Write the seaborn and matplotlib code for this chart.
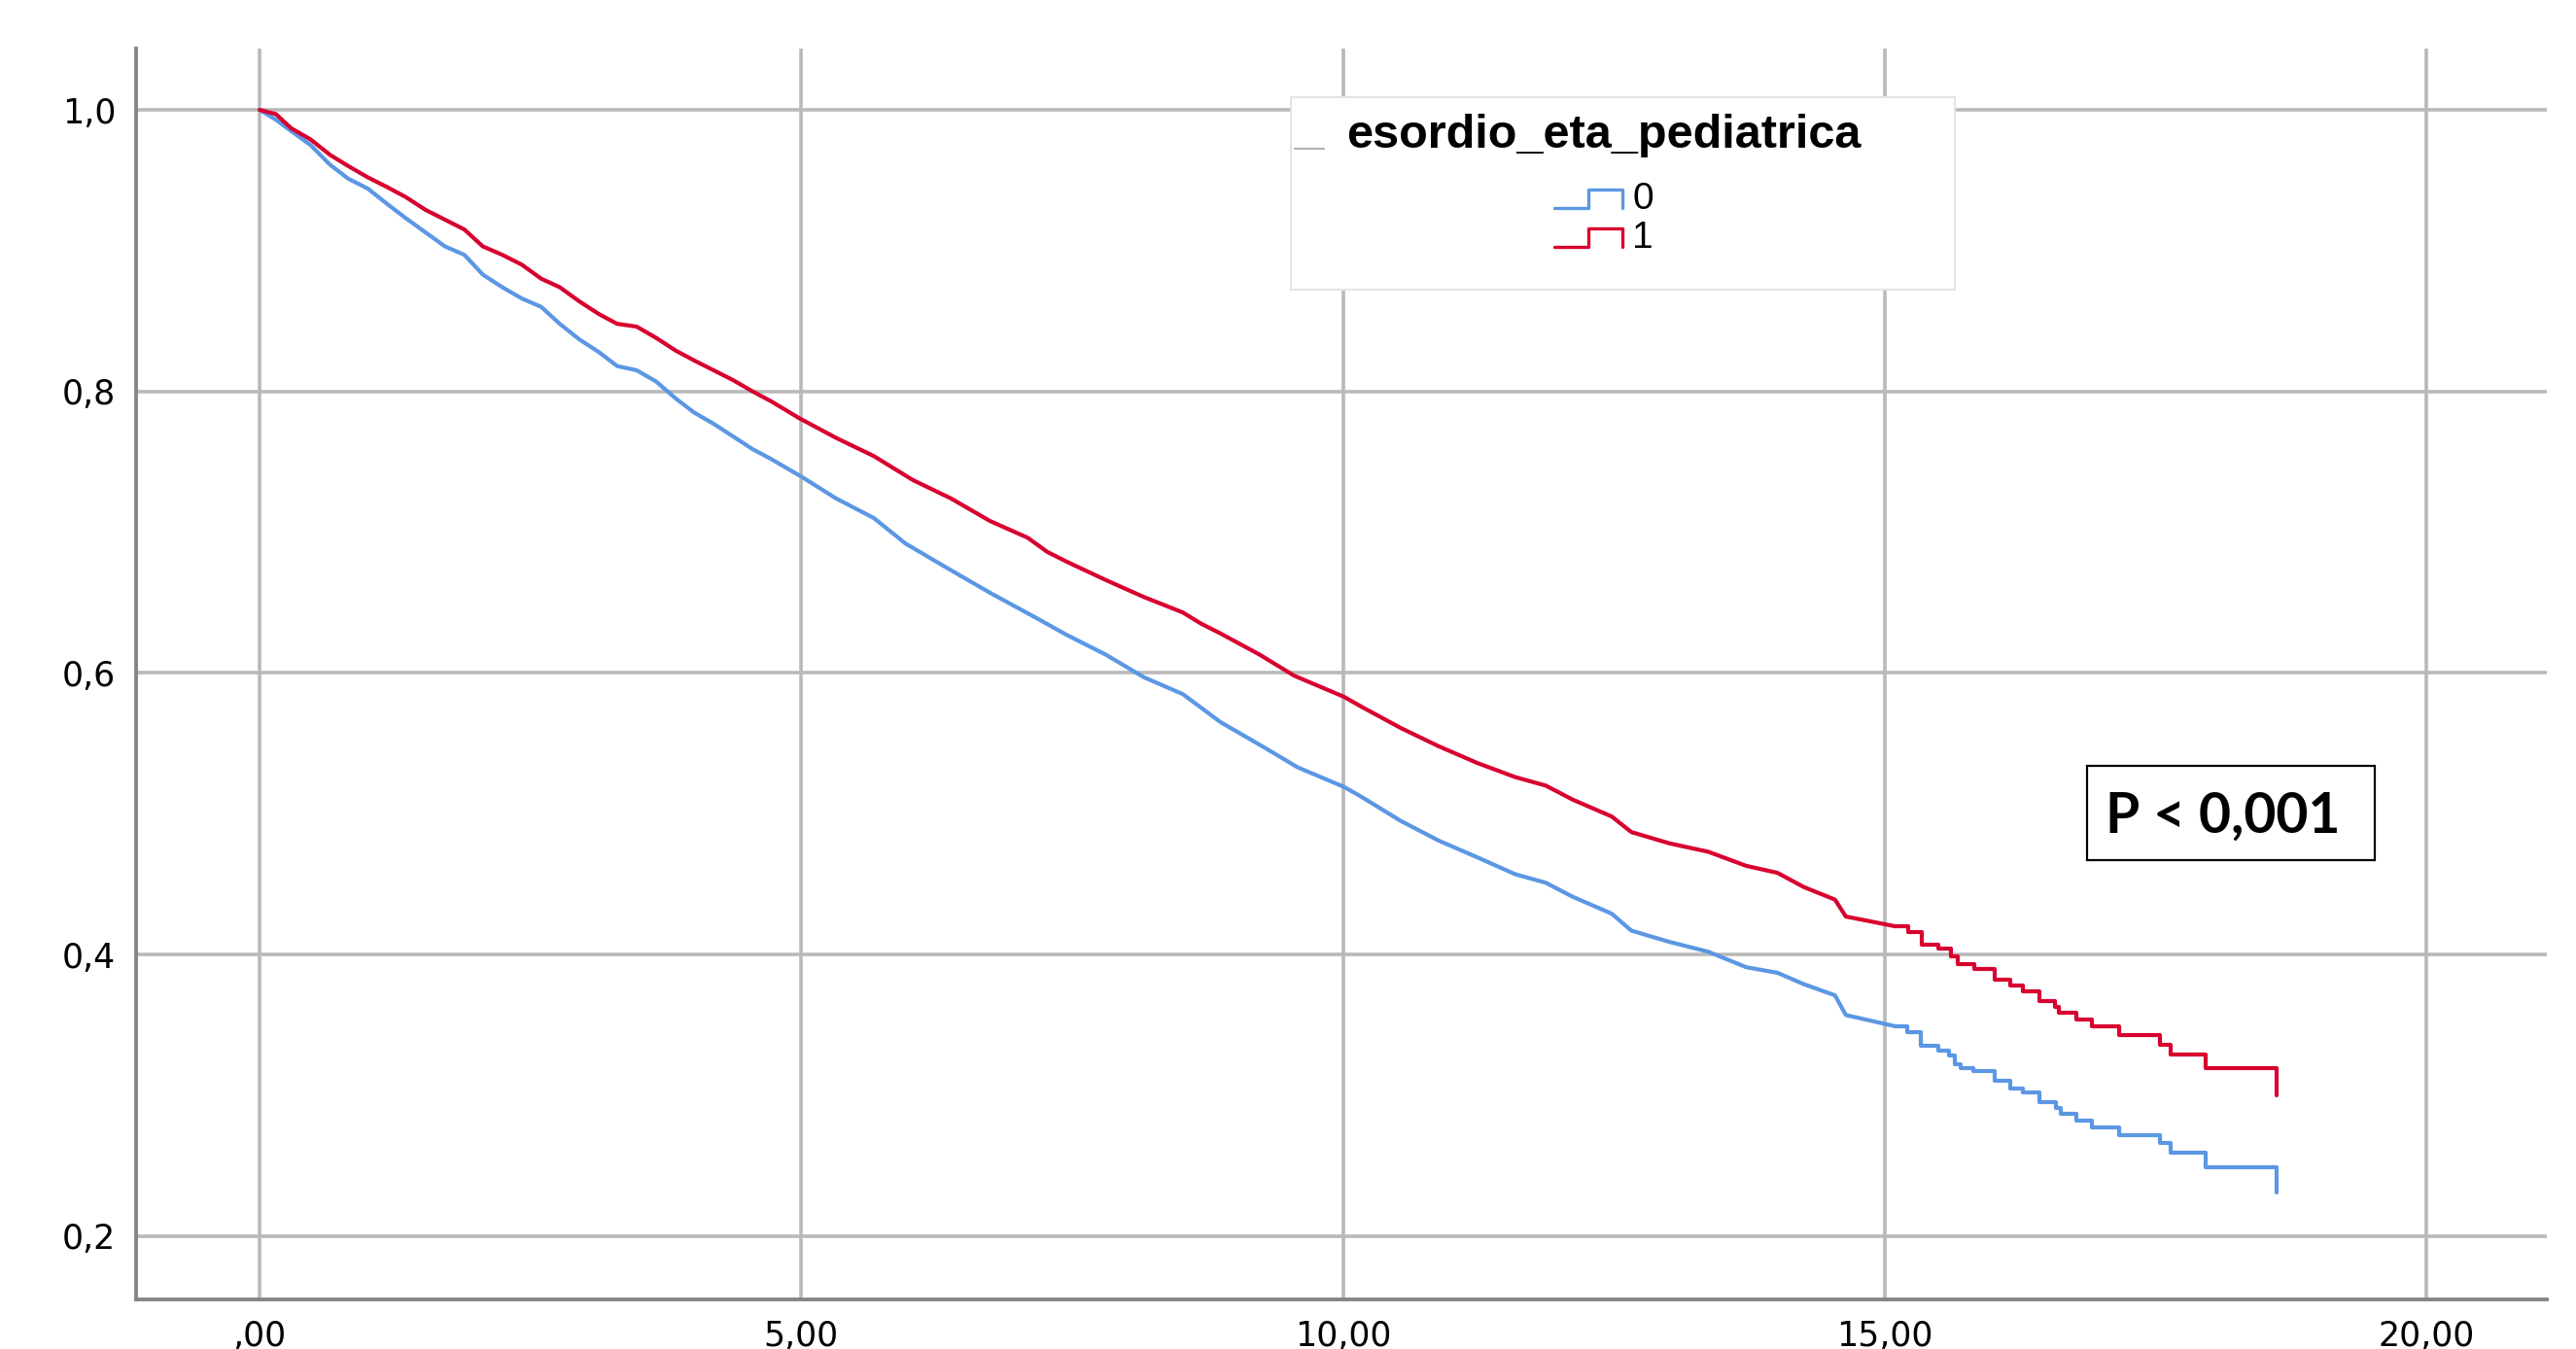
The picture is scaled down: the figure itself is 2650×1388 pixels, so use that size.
import pandas as pd
import seaborn as sns
import matplotlib.pyplot as plt
from matplotlib.lines import Line2D
from matplotlib.patches import Rectangle
from matplotlib.legend_handler import HandlerBase

# Kaplan-Meier curves
# group 0 (blue), first part: dense points, drawn as a line
time_0 = [0.00, 0.15, 0.29, 0.47, 0.65, 0.82, 1.00, 1.18, 1.35, 1.53, 1.71, 1.89,
          2.06, 2.24, 2.42, 2.60, 2.77, 2.95, 3.13, 3.30, 3.48, 3.66, 3.84, 4.01,
          4.19, 4.37, 4.55, 4.72, 5.01, 5.32, 5.67, 5.96, 6.38, 6.74, 7.17, 7.45,
          7.81, 8.16, 8.52, 8.87, 9.23, 9.58, 10.01, 10.17, 10.53, 10.88, 11.24,
          11.59, 11.87, 12.12, 12.48, 12.66, 13.01, 13.37, 13.72, 14.01, 14.25,
          14.54, 14.64, 15.10]
surv_0 = [1.000, 0.993, 0.985, 0.975, 0.961, 0.951, 0.944, 0.933, 0.923, 0.913, 0.903, 0.897,
          0.883, 0.874, 0.866, 0.860, 0.848, 0.837, 0.828, 0.818, 0.815, 0.807, 0.795, 0.785,
          0.777, 0.768, 0.759, 0.752, 0.739, 0.724, 0.710, 0.692, 0.673, 0.657, 0.639, 0.627,
          0.613, 0.597, 0.585, 0.565, 0.549, 0.533, 0.519, 0.512, 0.495, 0.481, 0.469,
          0.457, 0.451, 0.441, 0.429, 0.417, 0.409, 0.402, 0.391, 0.387, 0.379,
          0.371, 0.357, 0.349]
# group 0, tail: visible steps
time_0_tail = [15.10, 15.21, 15.33, 15.49, 15.59, 15.65, 15.70, 15.82, 16.01, 16.16, 16.27,
               16.43, 16.58, 16.62, 16.77, 16.91, 17.16, 17.54, 17.64, 17.96, 18.62, 18.62]
surv_0_tail = [0.349, 0.345, 0.335, 0.332, 0.328, 0.322, 0.319, 0.317, 0.310, 0.305, 0.302,
               0.295, 0.291, 0.287, 0.282, 0.277, 0.272, 0.266, 0.259, 0.249, 0.249, 0.231]

# group 1 (red)
time_1 = [0.00, 0.15, 0.29, 0.47, 0.65, 0.82, 1.00, 1.18, 1.35, 1.53, 1.71, 1.89,
          2.06, 2.24, 2.42, 2.60, 2.77, 2.95, 3.13, 3.30, 3.48, 3.66, 3.84, 4.01,
          4.19, 4.37, 4.55, 4.72, 4.98, 5.32, 5.67, 6.03, 6.38, 6.74, 7.09, 7.27,
          7.45, 7.81, 8.16, 8.52, 8.69, 8.87, 9.23, 9.55, 10.01, 10.17, 10.53, 10.88,
          11.24, 11.59, 11.87, 12.12, 12.48, 12.66, 13.01, 13.37, 13.72, 14.01,
          14.25, 14.54, 14.64, 15.10]
surv_1 = [1.000, 0.997, 0.987, 0.979, 0.968, 0.960, 0.952, 0.945, 0.938, 0.929, 0.922, 0.915,
          0.903, 0.897, 0.890, 0.880, 0.874, 0.864, 0.855, 0.848, 0.846, 0.838, 0.829, 0.822,
          0.815, 0.808, 0.800, 0.793, 0.781, 0.767, 0.754, 0.737, 0.724, 0.708, 0.696, 0.686,
          0.679, 0.666, 0.654, 0.643, 0.635, 0.628, 0.613, 0.598, 0.583, 0.576, 0.561, 0.548,
          0.536, 0.526, 0.520, 0.510, 0.498, 0.487, 0.479, 0.473, 0.463, 0.458,
          0.448, 0.439, 0.427, 0.420]
time_1_tail = [15.10, 15.22, 15.34, 15.49, 15.61, 15.67, 15.83, 16.01, 16.16, 16.27, 16.43,
               16.57, 16.61, 16.77, 16.91, 17.16, 17.54, 17.64, 17.96, 18.62, 18.62]
surv_1_tail = [0.420, 0.416, 0.407, 0.404, 0.399, 0.393, 0.390, 0.382, 0.378, 0.374, 0.367,
               0.363, 0.359, 0.354, 0.349, 0.343, 0.336, 0.329, 0.319, 0.319, 0.300]

groups = ["0", "1"]
colors = {"0": "#5b97e4", "1": "#d8002f"}
x_ticks = [0, 5, 10, 15, 20]
x_labels = [",00", "5,00", "10,00", "15,00", "20,00"]
y_ticks = [0.2, 0.4, 0.6, 0.8, 1.0]
y_labels = ["0,2", "0,4", "0,6", "0,8", "1,0"]
legend_title = "esordio_eta_pediatrica"
p_text = "P < 0,001"

early = pd.concat([
    pd.DataFrame({"time": time_0, "surv": surv_0, "group": "0"}),
    pd.DataFrame({"time": time_1, "surv": surv_1, "group": "1"}),
])
tail = pd.concat([
    pd.DataFrame({"time": time_0_tail, "surv": surv_0_tail, "group": "0"}),
    pd.DataFrame({"time": time_1_tail, "surv": surv_1_tail, "group": "1"}),
])

sns.set_style("white")
plt.rcParams['font.family'] = ['DejaVu Sans']
plt.rcParams['text.color'] = 'black'

W, H = 2650, 1388
fig = plt.figure(figsize=(W / 100, H / 100), dpi=100)
ax = fig.add_axes([140 / W, (H - 1337) / H, (2620 - 140) / W, (1337 - 50) / H])

sns.lineplot(data=early, x="time", y="surv", hue="group", palette=colors,
             estimator=None, sort=False, lw=3.0, legend=False, ax=ax)
sns.lineplot(data=tail, x="time", y="surv", hue="group", palette=colors,
             estimator=None, sort=False, lw=3.0, legend=False, ax=ax,
             drawstyle="steps-post")

ax.set_xlim(-1.14, 21.11)
ax.set_ylim(0.155, 1.0435)
ax.set_xticks(x_ticks)
ax.set_xticklabels(x_labels)
ax.set_yticks(y_ticks)
ax.set_yticklabels(y_labels)
ax.set_xlabel("")
ax.set_ylabel("")
ax.tick_params(length=0, labelsize=25, pad=15, colors="black")
ax.set_axisbelow(True)
ax.grid(True, color="#b9b9b9", lw=2.6)
for s in ["top", "right"]:
    ax.spines[s].set_visible(False)
for s in ["left", "bottom"]:
    ax.spines[s].set_color("#858585")
    ax.spines[s].set_linewidth(2.8)


# step-shaped legend keys like SPSS
class StepHandler(HandlerBase):
    def create_artists(self, legend, orig_handle, xdescent, ydescent,
                       width, height, fontsize, trans):
        x0, y0 = -xdescent, -ydescent
        lo, hi = y0 + height * 0.05, y0 + height * 0.75
        xs = [x0, x0 + width / 2, x0 + width / 2, x0 + width, x0 + width]
        ys = [lo, lo, hi, hi, lo]
        return [Line2D(xs, ys, color=orig_handle.get_color(),
                       lw=orig_handle.get_linewidth(), transform=trans)]


# legend frame
fig.add_artist(Rectangle((1328 / W, (H - 298) / H), (2011 - 1328) / W, (298 - 100) / H,
                         transform=fig.transFigure, facecolor="white",
                         edgecolor="#e4e4e4", lw=1.5, zorder=2))
fig.add_artist(Line2D([1332 / W, 1362 / W], [(H - 153) / H] * 2,
                      color="#b0b0b0", lw=1.5, zorder=3))

handles = [Line2D([], [], color=colors[g], lw=2.4) for g in groups]
leg = fig.legend(handles, groups, title=legend_title,
                 handler_map={Line2D: StepHandler()},
                 loc="upper center", bbox_to_anchor=(1650 / W, (H - 98) / H),
                 bbox_transform=fig.transFigure, frameon=False, borderpad=0,
                 fontsize=28, handlelength=1.8, handletextpad=0.25,
                 labelspacing=0.1,
                 title_fontproperties={"family": "Liberation Sans",
                                       "weight": "bold", "size": 35})
leg.set_zorder(4)
leg._legend_box.sep = 18
for t in leg.get_texts():
    t.set_family("Liberation Sans")
    t.set_color("black")
leg.get_title().set_color("black")

# p-value box
fig.add_artist(Rectangle((2147 / W, (H - 885) / H), (2443 - 2147) / W, (885 - 788) / H,
                         transform=fig.transFigure, facecolor="white",
                         edgecolor="black", lw=1.6, zorder=2))
fig.text(2287 / W, (H - 840) / H, p_text, ha="center", va="center",
         fontsize=41, fontweight="bold", family="Lato", color="black", zorder=4)

fig.savefig("out.png", dpi=100, facecolor="white")
